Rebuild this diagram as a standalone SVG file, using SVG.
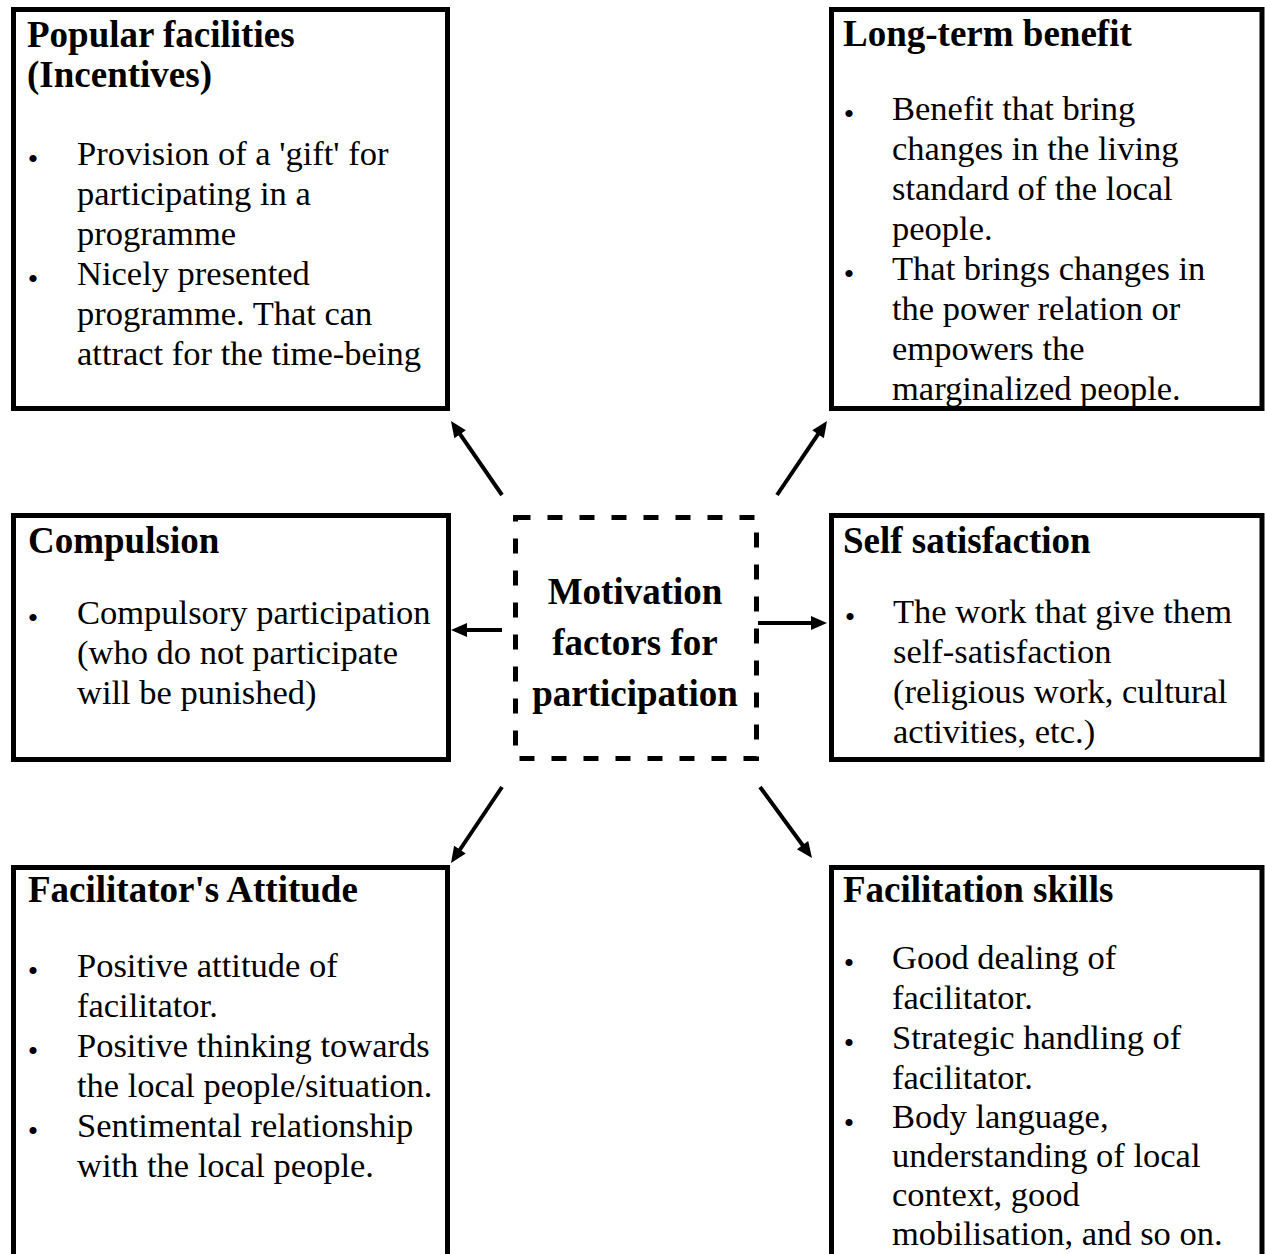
<svg xmlns="http://www.w3.org/2000/svg" width="1265" height="1254" viewBox="0 0 1265 1254">
  <style>
    .box { fill: #fff; stroke: #000; stroke-width: 5; }
    .hub { fill: #fff; stroke: #000; stroke-width: 5; stroke-dasharray: 15 17; }
    .title { font-family: "Liberation Serif", "Times New Roman", serif; font-weight: bold; font-size: 37px; fill: #000; }
    .body { font-family: "Liberation Serif", "Times New Roman", serif; font-size: 34.5px; fill: #000; }
    .dot { font-family: "Liberation Serif", "Times New Roman", serif; font-size: 30px; fill: #000; text-anchor: middle; }
    .hubtext { font-family: "Liberation Serif", "Times New Roman", serif; font-weight: bold; font-size: 37px; fill: #000; text-anchor: middle; }
    .link { stroke: #000; stroke-width: 4; fill: none; marker-end: url(#head); }
  </style>
  <defs>
    <marker id="head" markerUnits="userSpaceOnUse" markerWidth="16" markerHeight="14" refX="4" refY="7" orient="auto" overflow="visible">
      <path d="M0,0 L16,7 L0,14 Z" fill="#000"/>
    </marker>
  </defs>
  <rect width="1265" height="1254" fill="#fff"/>

  <!-- connectors: from the central hub out to each factor -->
  <g id="connectors">
    <line class="link" x1="502" y1="495" x2="457.8" y2="430.9"/>
    <line class="link" x1="777" y1="495" x2="820.3" y2="430.9"/>
    <line class="link" x1="502" y1="630" x2="463" y2="630"/>
    <line class="link" x1="758" y1="623" x2="815" y2="623"/>
    <line class="link" x1="502" y1="787" x2="457.7" y2="853"/>
    <line class="link" x1="760" y1="787" x2="804.9" y2="848.3"/>
  </g>

  <!-- central hub -->
  <g id="hub">
    <rect class="hub" x="515.5" y="517.5" width="241" height="241"/>
    <text class="hubtext" x="635" y="604">Motivation</text>
    <text class="hubtext" x="635" y="655">factors for</text>
    <text class="hubtext" x="635" y="706">participation</text>
  </g>

  <g id="popular-facilities">
    <rect class="box" x="13.5" y="9.5" width="434" height="399"/>
    <text class="title" x="27" y="47">Popular facilities</text>
    <text class="title" x="27" y="87">(Incentives)</text>
    <text class="dot" x="33" y="169">•</text>
    <text class="dot" x="33" y="289">•</text>
    <text class="body" x="77">
      <tspan x="77" y="165">Provision of a 'gift' for</tspan>
      <tspan x="77" y="205">participating in a</tspan>
      <tspan x="77" y="245">programme</tspan>
      <tspan x="77" y="285">Nicely presented</tspan>
      <tspan x="77" y="325">programme. That can</tspan>
      <tspan x="77" y="365">attract for the time-being</tspan>
    </text>
  </g>

  <g id="long-term-benefit">
    <rect class="box" x="831.5" y="9.5" width="430.5" height="399"/>
    <text class="title" x="843" y="46">Long-term benefit</text>
    <text class="dot" x="849" y="124">•</text>
    <text class="dot" x="849" y="284">•</text>
    <text class="body" x="892">
      <tspan x="892" y="120">Benefit that bring</tspan>
      <tspan x="892" y="160">changes in the living</tspan>
      <tspan x="892" y="200">standard of the local</tspan>
      <tspan x="892" y="240">people.</tspan>
      <tspan x="892" y="280">That brings changes in</tspan>
      <tspan x="892" y="320">the power relation or</tspan>
      <tspan x="892" y="360">empowers the</tspan>
      <tspan x="892" y="400">marginalized people.</tspan>
    </text>
  </g>

  <g id="compulsion">
    <rect class="box" x="13.5" y="515.5" width="435" height="244"/>
    <text class="title" x="28" y="553">Compulsion</text>
    <text class="dot" x="33" y="628">•</text>
    <text class="body" x="77">
      <tspan x="77" y="624">Compulsory participation</tspan>
      <tspan x="77" y="664">(who do not participate</tspan>
      <tspan x="77" y="704">will be punished)</tspan>
    </text>
  </g>

  <g id="self-satisfaction">
    <rect class="box" x="831.5" y="515.5" width="430.5" height="244"/>
    <text class="title" x="843" y="553">Self satisfaction</text>
    <text class="dot" x="850" y="627">•</text>
    <text class="body" x="893">
      <tspan x="893" y="623">The work that give them</tspan>
      <tspan x="893" y="663">self-satisfaction</tspan>
      <tspan x="893" y="703">(religious work, cultural</tspan>
      <tspan x="893" y="743">activities, etc.)</tspan>
    </text>
  </g>

  <g id="facilitator-attitude">
    <rect class="box" x="13.5" y="867.5" width="434" height="400"/>
    <text class="title" x="28" y="902">Facilitator's Attitude</text>
    <text class="dot" x="33" y="981">•</text>
    <text class="dot" x="33" y="1061">•</text>
    <text class="dot" x="33" y="1141">•</text>
    <text class="body" x="77">
      <tspan x="77" y="977">Positive attitude of</tspan>
      <tspan x="77" y="1017">facilitator.</tspan>
      <tspan x="77" y="1057">Positive thinking towards</tspan>
      <tspan x="77" y="1097">the local people/situation.</tspan>
      <tspan x="77" y="1137">Sentimental relationship</tspan>
      <tspan x="77" y="1177">with the local people.</tspan>
    </text>
  </g>

  <g id="facilitation-skills">
    <rect class="box" x="831.5" y="867.5" width="430.5" height="400"/>
    <text class="title" x="843" y="902">Facilitation skills</text>
    <text class="dot" x="849" y="973">•</text>
    <text class="dot" x="849" y="1053">•</text>
    <text class="dot" x="849" y="1133">•</text>
    <text class="body" x="892">
      <tspan x="892" y="969">Good dealing of</tspan>
      <tspan x="892" y="1009">facilitator.</tspan>
      <tspan x="892" y="1049">Strategic handling of</tspan>
      <tspan x="892" y="1089">facilitator.</tspan>
      <tspan x="892" y="1128">Body language,</tspan>
      <tspan x="892" y="1167">understanding of local</tspan>
      <tspan x="892" y="1206">context, good</tspan>
      <tspan x="892" y="1245">mobilisation, and so on.</tspan>
    </text>
  </g>
</svg>
